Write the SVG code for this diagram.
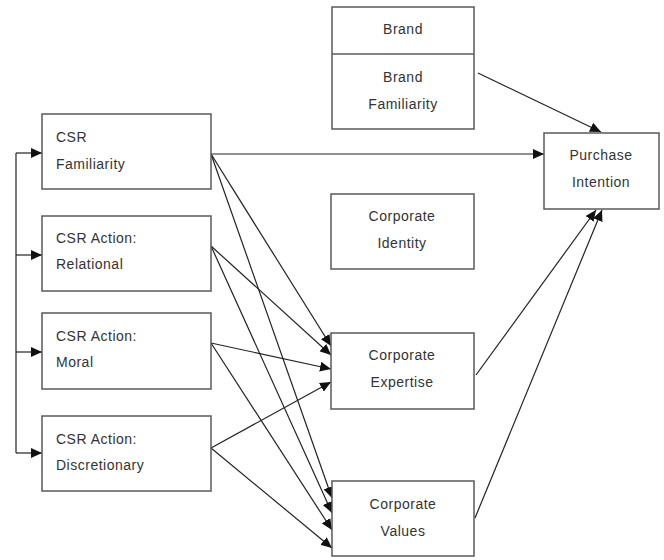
<svg xmlns="http://www.w3.org/2000/svg" width="664" height="560" viewBox="0 0 664 560">
<style>
.box{fill:#fff;stroke:#5a5a5a;stroke-width:1.5}
.t{font-family:"Liberation Sans",Arial,sans-serif;font-size:14px;letter-spacing:0.5px;fill:#333}
.c{text-anchor:middle}
.ln{fill:none;stroke:#222;stroke-width:1.2}
</style>
<defs>
<marker id="ah" markerUnits="userSpaceOnUse" markerWidth="12" markerHeight="10" refX="11" refY="5" orient="auto">
<path d="M0,0 L11,5 L0,10 Z" fill="#111"/>
</marker>
</defs>
<rect width="664" height="560" fill="#fff"/>
<g id="connectors">
<path class="ln" d="M16,153 V453"/>
<path class="ln" d="M16,153 H42" marker-end="url(#ah)"/>
<path class="ln" d="M16,255 H42" marker-end="url(#ah)"/>
<path class="ln" d="M16,352 H42" marker-end="url(#ah)"/>
<path class="ln" d="M16,453 H42" marker-end="url(#ah)"/>
<path class="ln" d="M211,154 H544" marker-end="url(#ah)"/>
<path class="ln" d="M478,73 L601,132" marker-end="url(#ah)"/>
<path class="ln" d="M476,375 L596,210" marker-end="url(#ah)"/>
<path class="ln" d="M475,518 L602,210" marker-end="url(#ah)"/>
<path class="ln" d="M211,154 L331,346" marker-end="url(#ah)"/>
<path class="ln" d="M211,246 L331,355" marker-end="url(#ah)"/>
<path class="ln" d="M211,343 L331,369" marker-end="url(#ah)"/>
<path class="ln" d="M211,448 L331,382" marker-end="url(#ah)"/>
<path class="ln" d="M211,154 L332,498" marker-end="url(#ah)"/>
<path class="ln" d="M211,246 L332,513" marker-end="url(#ah)"/>
<path class="ln" d="M211,343 L332,530" marker-end="url(#ah)"/>
<path class="ln" d="M211,448 L332,548" marker-end="url(#ah)"/>
</g>
<g id="csr-familiarity">
<rect class="box" x="42" y="114" width="169" height="75"/>
<text class="t" x="56" y="142">CSR</text>
<text class="t" x="56" y="169">Familiarity</text>
</g>
<g id="csr-relational">
<rect class="box" x="42" y="216" width="169" height="75"/>
<text class="t" x="56" y="243">CSR Action:</text>
<text class="t" x="56" y="269">Relational</text>
</g>
<g id="csr-moral">
<rect class="box" x="42" y="313" width="169" height="76"/>
<text class="t" x="56" y="341">CSR Action:</text>
<text class="t" x="56" y="367">Moral</text>
</g>
<g id="csr-discretionary">
<rect class="box" x="42" y="416" width="169" height="75"/>
<text class="t" x="56" y="444">CSR Action:</text>
<text class="t" x="56" y="470">Discretionary</text>
</g>
<g id="brand">
<rect class="box" x="332" y="7" width="142" height="122"/>
<line x1="332" y1="54" x2="474" y2="54" stroke="#5a5a5a" stroke-width="1.5"/>
<text class="t c" x="403" y="34">Brand</text>
<text class="t c" x="403" y="82">Brand</text>
<text class="t c" x="403" y="109">Familiarity</text>
</g>
<g id="corporate-identity">
<rect class="box" x="331" y="194" width="143" height="75"/>
<text class="t c" x="402" y="221">Corporate</text>
<text class="t c" x="402" y="248">Identity</text>
</g>
<g id="corporate-expertise">
<rect class="box" x="331" y="333" width="143" height="76"/>
<text class="t c" x="402" y="360">Corporate</text>
<text class="t c" x="402" y="387">Expertise</text>
</g>
<g id="corporate-values">
<rect class="box" x="332" y="481" width="142" height="75"/>
<text class="t c" x="403" y="509">Corporate</text>
<text class="t c" x="403" y="536">Values</text>
</g>
<g id="purchase-intention">
<rect class="box" x="544" y="133" width="115" height="76"/>
<text class="t c" x="601" y="160">Purchase</text>
<text class="t c" x="601" y="187">Intention</text>
</g>
</svg>
